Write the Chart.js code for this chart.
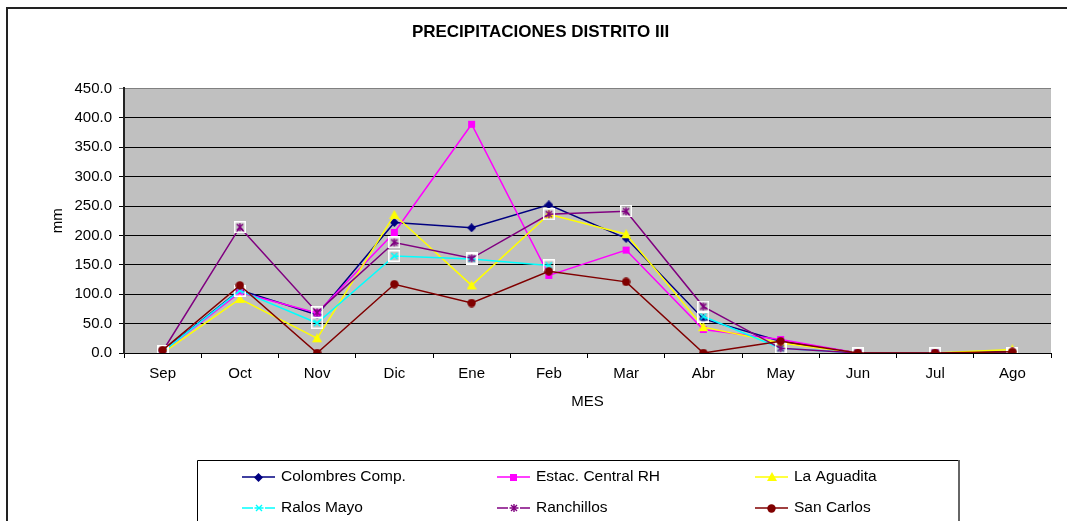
<!DOCTYPE html>
<html>
<head>
<meta charset="utf-8">
<title>Precipitaciones Distrito III</title>
<script src="https://cdn.jsdelivr.net/npm/chart.js@4.4.0/dist/chart.umd.min.js"></script>
<style>
    html, body { margin: 0; padding: 0; background: #fff; }
    #wrap { position: relative; width: 1067px; height: 521px; }
</style>
</head>
<body>
<div id="wrap"><canvas id="rainChart" width="1067" height="521"></canvas></div>
<script>
// Data (mm per month)
const months = ['Sep', 'Oct', 'Nov', 'Dic', 'Ene', 'Feb', 'Mar', 'Abr', 'May', 'Jun', 'Jul', 'Ago'];
const colombres = [3, 107, 65, 222, 213, 252, 195, 58, 20, 0, 0, 2];
const estacCentral = [2, 103, 68, 205, 389, 132, 175, 40, 23, 0, 0, 0];
const laAguadita = [0, 92, 25, 235, 115, 236, 202, 44, 17, 0, 0, 6];
const ralosMayo = [2, 106, 51, 165, 160, 149, null, 62, 8, 0, 0, 0];
const ranchillos = [3, 214, 69, 188, 161, 236, 241, 79, 8, 0, 0, 0];
const sanCarlos = [5, 115, 0, 117, 85, 139, 121, 0, 20, 0, 0, 2];
const yMax = 450;
const yStep = 50;

const FONT = "'Liberation Sans', Arial, sans-serif";

// marker images, shared by the lines and the legend
function makeMarker(kind, color) {
    const c = document.createElement('canvas');
    const size = (kind === 'x' || kind === 'star') ? 12 : (kind === 'triangle' ? 10 : 9);
    c.width = size;
    c.height = size;
    const g = c.getContext('2d');
    g.fillStyle = color;
    g.strokeStyle = color;
    if (kind === 'diamond') {
        g.beginPath();
        g.moveTo(4.5, 0); g.lineTo(9, 4.5); g.lineTo(4.5, 9); g.lineTo(0, 4.5);
        g.closePath(); g.fill();
    } else if (kind === 'square') {
        g.fillRect(1, 1, 7, 7);
    } else if (kind === 'triangle') {
        g.beginPath();
        g.moveTo(5, 0); g.lineTo(10, 9); g.lineTo(0, 9);
        g.closePath(); g.fill();
    } else if (kind === 'circle') {
        g.beginPath();
        g.arc(4.5, 4.5, 4.2, 0, Math.PI * 2);
        g.fill();
    } else {
        // white box around x / star
        g.strokeStyle = '#fff';
        g.lineWidth = 1.5;
        g.strokeRect(0.75, 0.75, 10.5, 10.5);
        g.strokeStyle = color;
        g.lineWidth = 1.4;
        g.beginPath();
        g.moveTo(3, 3); g.lineTo(9, 9);
        g.moveTo(9, 3); g.lineTo(3, 9);
        if (kind === 'star') {
            g.moveTo(6, 2); g.lineTo(6, 10);
        }
        g.stroke();
    }
    return c;
}

const seriesDefs = [
    { label: 'Colombres Comp.', data: colombres, color: '#000080', marker: 'diamond' },
    { label: 'Estac. Central RH', data: estacCentral, color: '#FF00FF', marker: 'square' },
    { label: 'La Aguadita', data: laAguadita, color: '#FFFF00', marker: 'triangle' },
    { label: 'Ralos Mayo', data: ralosMayo, color: '#00FFFF', marker: 'x' },
    { label: 'Ranchillos', data: ranchillos, color: '#800080', marker: 'star' },
    { label: 'San Carlos', data: sanCarlos, color: '#800000', marker: 'circle' }
];

const datasets = seriesDefs.map((s, i) => {
    const img = makeMarker(s.marker, s.color);
    return {
        label: s.label,
        data: s.data,
        borderColor: s.color,
        backgroundColor: s.color,
        borderWidth: 1.5,
        pointStyle: img,
        pointRadius: 5,
        tension: 0,
        spanGaps: false,
        order: seriesDefs.length - i
    };
});

// background, outer frame, plot fill and the boxed legend
const framePlugin = {
    id: 'frame',
    beforeDraw(chart) {
        const ctx = chart.ctx;
        const area = chart.chartArea;
        ctx.save();
        ctx.fillStyle = '#fff';
        ctx.fillRect(0, 0, chart.width, chart.height);
        ctx.strokeStyle = '#222';
        ctx.lineWidth = 2;
        ctx.strokeRect(7, 8, chart.width + 20, chart.height + 20);
        ctx.fillStyle = '#C0C0C0';
        ctx.fillRect(area.left, area.top, area.right - area.left, area.bottom - area.top);
        ctx.restore();
    },
    afterDraw(chart) {
        const ctx = chart.ctx;
        ctx.save();
        ctx.strokeStyle = '#000';
        ctx.lineWidth = 1;
        ctx.beginPath();
        ctx.moveTo(197.5, 540); ctx.lineTo(197.5, 460.5); ctx.lineTo(958.5, 460.5);
        ctx.stroke();
        ctx.strokeStyle = '#666';
        ctx.lineWidth = 2;
        ctx.beginPath();
        ctx.moveTo(959, 460); ctx.lineTo(959, 540);
        ctx.stroke();

        const colX = [242, 497, 755];
        const rowY = [477, 508];
        ctx.font = '15.5px ' + FONT;
        ctx.textBaseline = 'middle';
        ctx.fillStyle = '#000';
        chart.data.datasets.forEach((ds, i) => {
            const x = colX[i % 3];
            const y = rowY[Math.floor(i / 3)];
            ctx.strokeStyle = ds.borderColor;
            ctx.lineWidth = 1.5;
            ctx.beginPath();
            ctx.moveTo(x, y); ctx.lineTo(x + 33, y);
            ctx.stroke();
            const img = ds.pointStyle;
            ctx.drawImage(img, Math.round(x + 16.5 - img.width / 2), Math.round(y - img.height / 2));
            ctx.fillStyle = '#000';
            ctx.fillText(ds.label, x + 39, y);
        });
        ctx.restore();
    }
};

const ctx = document.getElementById('rainChart').getContext('2d');

new Chart(ctx, {
    type: 'line',
    data: {
        labels: months,
        datasets: datasets
    },
    options: {
        responsive: false,
        animation: false,
        layout: {
            padding: { left: 30, right: 16, top: 0, bottom: 108 }
        },
        plugins: {
            legend: { display: false },
            tooltip: { enabled: false },
            title: {
                display: true,
                text: 'PRECIPITACIONES DISTRITO III',
                color: '#000',
                font: { family: FONT, size: 17, weight: 'bold' },
                padding: { top: 22, bottom: 46 }
            }
        },
        scales: {
            x: {
                type: 'category',
                offset: true,
                afterFit: function (scale) { scale.height = 60; },
                grid: {
                    offset: true,
                    drawOnChartArea: false,
                    color: '#000',
                    tickLength: 5
                },
                border: { color: '#000', width: 1 },
                ticks: {
                    color: '#000',
                    font: { family: FONT, size: 15 },
                    padding: 7,
                    maxRotation: 0
                },
                title: {
                    display: true,
                    text: 'MES',
                    color: '#000',
                    font: { family: FONT, size: 15 },
                    padding: { top: 0, bottom: 2 }
                }
            },
            y: {
                min: 0,
                max: yMax,
                afterFit: function (scale) { scale.width = 94; },
                grid: {
                    color: c => (c.tick && c.tick.value === yMax) ? '#808080' : '#000',
                    lineWidth: 1,
                    tickLength: 5
                },
                border: { color: '#222', width: 2 },
                ticks: {
                    stepSize: yStep,
                    color: '#000',
                    font: { family: FONT, size: 15 },
                    padding: 7,
                    callback: v => Number(v).toFixed(1)
                },
                title: {
                    display: true,
                    text: 'mm',
                    color: '#000',
                    font: { family: FONT, size: 15 },
                    padding: { top: 19, bottom: 0 }
                }
            }
        }
    },
    plugins: [framePlugin]
});
</script>
</body>
</html>
